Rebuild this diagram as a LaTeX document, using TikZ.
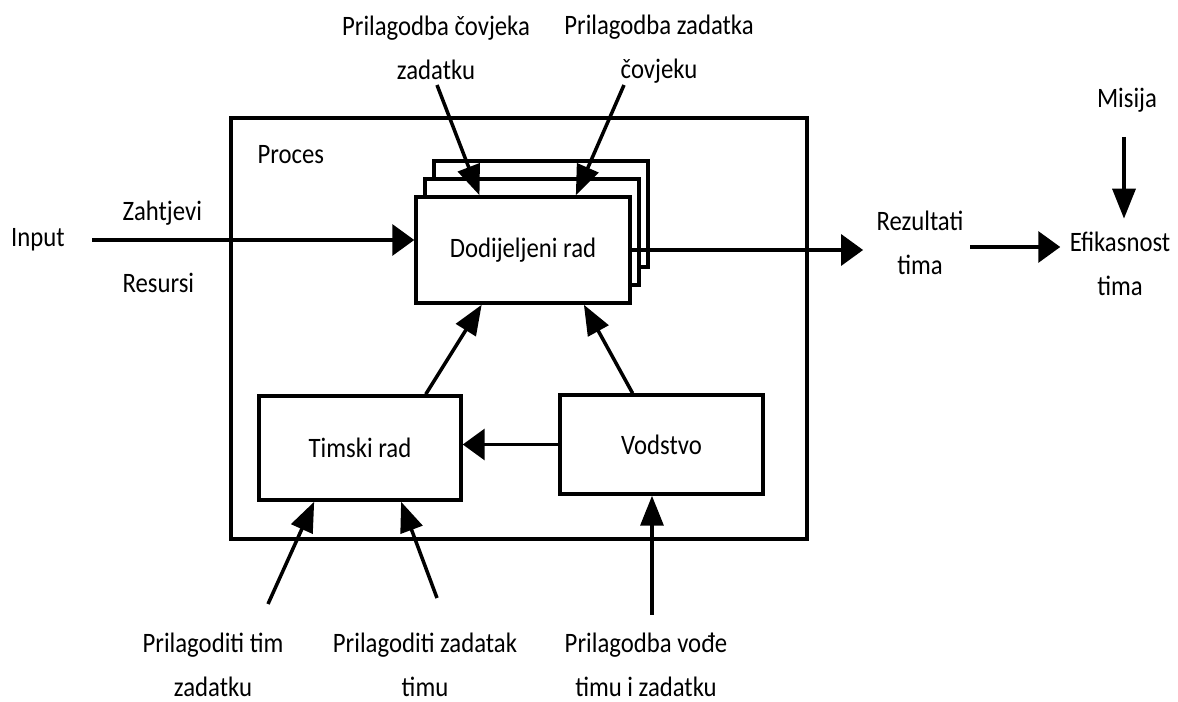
\documentclass[tikz,border=0pt]{standalone}
\usepackage{fontspec}
\setmainfont{Carlito}[FakeStretch=0.88]
\usetikzlibrary{arrows.meta,shadows,calc}
\begin{document}
\begin{tikzpicture}[x=0.02cm, y=-0.02cm, line width=2pt,
    font=\fontsize{16}{25}\selectfont,
    box/.style={draw, fill=white, inner sep=0pt},
    lbl/.style={align=center, inner sep=1pt},
    harr/.style={-{Triangle[length=0.44cm,width=0.62cm]}},
    varr/.style={-{Triangle[length=0.6cm,width=0.46cm]}}]
    \useasboundingbox (0,0) rectangle (1178,702);
    % proces
    \node[draw, inner sep=0pt, minimum width=11.52cm, minimum height=8.42cm] (proc) at (519,328.5) {};
    \node[anchor=west] (proclbl) at (250,155) {Proces};
    \node[box, minimum width=4.28cm, minimum height=2.12cm,
        double copy shadow={shadow xshift=0.18cm, shadow yshift=0.36cm}] (dod) at (523,250) {Dodijeljeni rad};
    \node[box, minimum width=4.04cm, minimum height=2.08cm] (tim) at (360,448) {Timski rad};
    \node[box, minimum width=4.06cm, minimum height=1.98cm] (vod) at (661.5,444.5) {Vodstvo};
    % tekstovi
    \node (input) at (38,240) {Input};
    \node[anchor=west] (zah) at (115,213) {Zahtjevi};
    \node[anchor=west] (res) at (115,283) {Resursi};
    \node[lbl] (rez) at (920,243) {Rezultati\\tima};
    \node[lbl] (efi) at (1120,264) {Efikasnost\\tima};
    \node (mis) at (1127,100) {Misija};
    \node[lbl] (pcz) at (436,48) {Prilagodba čovjeka\\zadatku};
    \node[lbl] (pzc) at (659,49) {Prilagodba zadatka\\čovjeku};
    \node[lbl] (ptz) at (213,665) {Prilagoditi tim\\zadatku};
    \node[lbl] (pzt) at (425,665) {Prilagoditi zadatak\\timu};
    \node[lbl] (pvt) at (646,665) {Prilagodba vođe\\timu i zadatku};
    % pocetne tocke strelica
    \coordinate (inS) at (92,240);
    \coordinate (rezS) at (970,247);
    \coordinate (misS) at (1124,137);
    \coordinate (pczS) at (437,85);
    \coordinate (pzcS) at (624,85);
    \coordinate (ptzS) at (268,604);
    \coordinate (pztS) at (437,598);
    \coordinate (pvtS) at (652,615);
    % strelice
    \draw[harr] (inS) -- (inS -| dod.west);
    \draw[harr] (dod.east) -- ([xshift=-0.2cm]rez.west |- dod.east);
    \draw[harr, shorten >=0.12cm] (rezS) -- (rezS -| efi.west);
    \draw[varr, shorten >=0.2cm] (misS) -- (misS |- efi.north);
    \draw[varr] (pczS) -- ($(dod.north west)!0.3!(dod.north east)$);
    \draw[varr] (pzcS) -- ($(dod.north west)!0.743!(dod.north east)$);
    \draw[varr] ($(tim.north west)!0.82!(tim.north east)$) -- ($(dod.south west)!0.31!(dod.south east)$);
    \draw[varr] ($(vod.north west)!0.36!(vod.north east)$) -- ($(dod.south west)!0.78!(dod.south east)$);
    \draw[harr] (vod.west) -- (vod.west -| tim.east);
    \draw[varr] (ptzS) -- ($(tim.south west)!0.277!(tim.south east)$);
    \draw[varr] (pztS) -- ($(tim.south west)!0.70!(tim.south east)$);
    \draw[varr] (pvtS) -- (pvtS |- vod.south);
\end{tikzpicture}
\end{document}
